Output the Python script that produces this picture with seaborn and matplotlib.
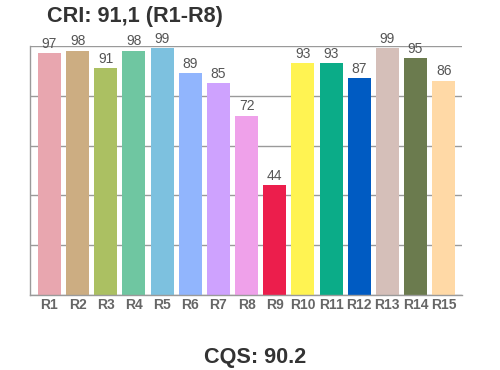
import matplotlib
matplotlib.use("Agg")
import matplotlib.pyplot as plt
import seaborn as sns
import pandas as pd

categories = ["R1", "R2", "R3", "R4", "R5", "R6", "R7", "R8", "R9", "R10", "R11", "R12", "R13", "R14", "R15"]
values = [97, 98, 91, 98, 99, 89, 85, 72, 44, 93, 93, 87, 99, 95, 86]
colors = ["#E8A6AF", "#CCAD82", "#ABC062", "#6FC6A1", "#7DC1DF", "#91B5FD", "#CEA2FE", "#EFA1EA",
          "#EC1E4C", "#FFF352", "#0BAC88", "#005BC2", "#D5BFB9", "#6B7B4E", "#FFD9A6"]
title_text = "CRI: 91,1 (R1-R8)"
bottom_text = "CQS: 90.2"

sns.set_style("white")
plt.rcParams['font.family'] = ['Liberation Sans', 'DejaVu Sans']

df = pd.DataFrame({"cat": categories, "val": values})

fig = plt.figure(figsize=(5, 3.7), dpi=100)
ax = fig.add_axes([0.06, 0.2027, 0.864, 0.673])
sns.barplot(data=df, x="cat", y="val", hue="cat", palette=colors, legend=False,
            width=0.82, ax=ax, saturation=1, edgecolor="none")
ax.set_ylim(0, 100)
ax.set_xlim(-0.69, 14.65)
ax.set_yticks([0, 20, 40, 60, 80, 100])
ax.set_yticklabels([])
ax.tick_params(axis="y", length=0)
ax.tick_params(axis="x", length=0, pad=2)
ax.yaxis.grid(True, color="#9a9a9a", linewidth=1)
ax.set_axisbelow(True)
for s in ["top", "right"]:
    ax.spines[s].set_visible(False)
for s in ["left", "bottom"]:
    ax.spines[s].set_color("#9a9a9a")
    ax.spines[s].set_linewidth(1)
ax.set_xlabel("")
ax.set_ylabel("")
for lbl in ax.get_xticklabels():
    lbl.set_fontweight("bold")
    lbl.set_color("#666666")
    lbl.set_fontsize(10)
for i, v in enumerate(values):
    ax.text(i, v + 1, str(v), ha="center", va="bottom", fontsize=10, color="#555555")

fig.text(47 / 500, 1 - 22 / 370, title_text, fontsize=15.6, fontweight="bold", color="#333333",
         ha="left", va="baseline")
fig.text(255 / 500, 1 - 368.5 / 370, bottom_text, fontsize=15.6, fontweight="bold", color="#333333",
         ha="center", va="bottom")

fig.savefig("out.png", dpi=100)
